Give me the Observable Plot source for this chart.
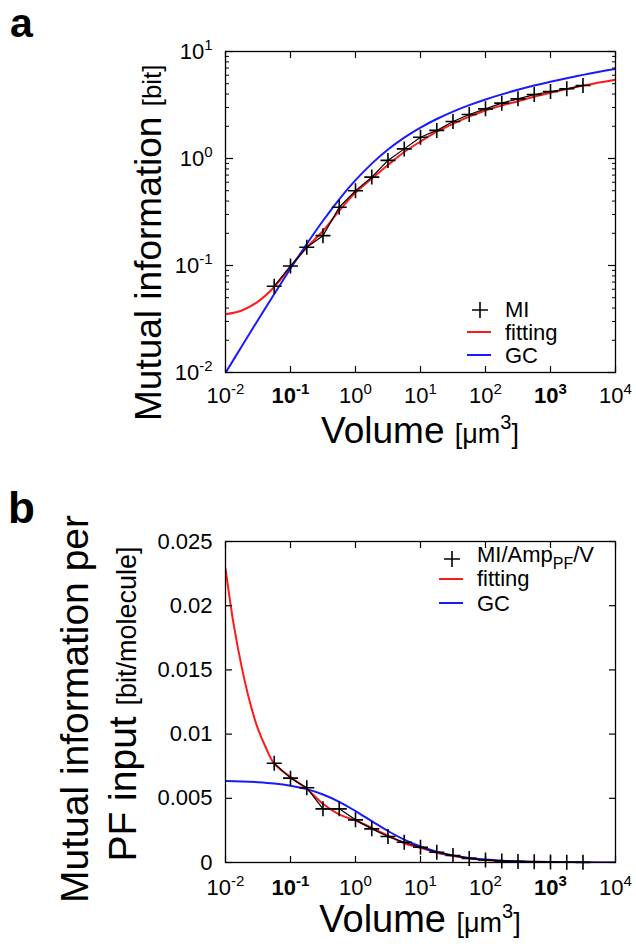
<!DOCTYPE html>
<html>
<head>
<meta charset="utf-8">
<script src="https://cdn.jsdelivr.net/npm/d3@7"></script>
<script src="https://cdn.jsdelivr.net/npm/@observablehq/plot@0.6"></script>
<style>
  html, body { margin: 0; padding: 0; background: #fff; }
  #chart { width: 636px; height: 944px; position: relative; }
  #chart svg { display: block; }
</style>
</head>
<body>
<div id="chart"></div>
<script>
// ---------- data ----------
const volume = [0.0562, 0.1, 0.178, 0.316, 0.562, 1, 1.78, 3.16, 5.62, 10, 17.8, 31.6, 56.2, 100, 178, 316, 562, 1000, 1780, 3160];
const mi = [0.064, 0.099, 0.148, 0.19, 0.35, 0.50, 0.67, 0.96, 1.23, 1.58, 1.83, 2.22, 2.58, 2.91, 3.29, 3.61, 3.96, 4.23, 4.48, 4.81];
const miPerInput = [0.00773, 0.00657, 0.00582, 0.00418, 0.00418, 0.00332, 0.00262, 0.00202, 0.00158, 0.00119, 0.0008, 0.00055, 0.00032, 0.00019, 0.00012, 0.00008, 0.00005, 0.00003, 0.00002, 0.00001];

const curveV = [0.01, 0.0178, 0.0316, 0.0562, 0.1, 0.178, 0.316, 0.562, 1, 1.78, 3.16, 5.62, 10, 17.8, 31.6, 56.2, 100, 178, 316, 562, 1000, 1780, 3160, 5620, 10000];
const fitA = [0.035, 0.038, 0.046, 0.063, 0.097, 0.148, 0.21, 0.325, 0.48, 0.65, 0.87, 1.15, 1.44, 1.78, 2.11, 2.46, 2.81, 3.13, 3.43, 3.78, 4.11, 4.45, 4.81, 5.12, 5.44];
const gcA = [0.00993, 0.01757, 0.03095, 0.05414, 0.0936, 0.159, 0.262, 0.416, 0.627, 0.896, 1.214, 1.568, 1.947, 2.34, 2.743, 3.151, 3.563, 3.976, 4.39, 4.804, 5.219, 5.634, 6.049, 6.464, 6.88];

const fitBV = [0.01, 0.0133, 0.0178, 0.0237, 0.0316, 0.0422, 0.0562, 0.1, 0.178, 0.316, 0.562, 1, 1.78, 3.16, 5.62, 10, 17.8, 31.6, 56.2, 100, 178, 316, 562, 1000, 1780, 3160, 5620, 10000];
const fitB = [0.0229, 0.0186, 0.0152, 0.0125, 0.0104, 0.0089, 0.0077, 0.00665, 0.00574, 0.00457, 0.00374, 0.00327, 0.0027, 0.0021, 0.0015, 0.00114, 0.00075, 0.0005, 0.00032, 0.0002, 0.00013, 0.00008, 0.00005, 0.00003, 0.00002, 0.000012, 0.000008, 0.000005];
const gcB = [0.006345, 0.006314, 0.006254, 0.006152, 0.005981, 0.005714, 0.005295, 0.004727, 0.004006, 0.00322, 0.002453, 0.001782, 0.001244, 0.000841, 0.000554, 0.000358, 0.000228, 0.000143, 0.000089, 0.000055, 0.000033, 0.00002, 0.000012, 0.000007, 0.0000044];

// ticks
const xDecades = [1e-2, 1e-1, 1e0, 1e1, 1e2, 1e3, 1e4];
const xExponents = [-2, -1, 0, 1, 2, 3, 4];
const boldXExponents = [-1, 3];
const yDecadesA = [1e-2, 1e-1, 1e0, 1e1];
const yExponentsA = [-2, -1, 0, 1];
const minorMult = [2, 3, 4, 5, 6, 7, 8, 9];
const yTicksB = [0, 0.005, 0.01, 0.015, 0.02, 0.025];
const yTickLabelsB = ["0", "0.005", "0.01", "0.015", "0.02", "0.025"];

const FONT = "'Liberation Sans', Arial, Helvetica, sans-serif";
const RED = "#ff1a1a", BLUE = "#1a1aff";

const yMinorA = yDecadesA.slice(0, -1).flatMap(d => minorMult.map(m => d * m));

const plusSymbol = {
  draw(ctx, size) {
    const r = Math.sqrt(size / Math.PI);
    ctx.moveTo(-r, 0); ctx.lineTo(r, 0);
    ctx.moveTo(0, -r); ctx.lineTo(0, r);
  }
};

const xLabel = d => "10^" + xExponents[xDecades.indexOf(d)];
const blank = () => "";

function frameTicks(yDecades, yMinor, yMajorSize) {
  const m = [
    Plot.axisX(xDecades, {anchor: "bottom", tickSize: -6, tickFormat: blank, label: null, strokeWidth: 1.2}),
    Plot.axisX(xDecades, {anchor: "top", tickSize: -6, tickFormat: blank, label: null, strokeWidth: 1.2}),
    Plot.axisY(yDecades, {anchor: "left", tickSize: -yMajorSize, tickFormat: blank, label: null, strokeWidth: 1.2}),
    Plot.axisY(yDecades, {anchor: "right", tickSize: -yMajorSize, tickFormat: blank, label: null, strokeWidth: 1.2})
  ];
  if (yMinor) {
    m.push(Plot.axisY(yMinor, {anchor: "left", tickSize: -4, tickFormat: blank, label: null, strokeWidth: 1}));
    m.push(Plot.axisY(yMinor, {anchor: "right", tickSize: -4, tickFormat: blank, label: null, strokeWidth: 1}));
  }
  return m;
}

function superscriptTicks(svg, axis, boldList) {
  d3.select(svg).selectAll(`g[aria-label="${axis}-axis tick label"] text`).each(function() {
    const t = d3.select(this);
    const s = t.text();
    if (!s.includes("^")) return;
    const [base, exp] = s.split("^");
    t.text(null);
    if (boldList.includes(+exp)) t.attr("font-weight", "bold");
    t.append("tspan").text(base);
    t.append("tspan").attr("dy", -9).attr("font-size", 15).text(exp);
  });
}

// ---------- panel a ----------
const plotA = Plot.plot({
  width: 636, height: 470,
  marginLeft: 225, marginRight: 21, marginTop: 51, marginBottom: 98,
  style: {fontFamily: FONT, fontSize: "22px", color: "black", background: "white"},
  x: {type: "log", domain: [1e-2, 1e4]},
  y: {type: "log", domain: [1e-2, 1e1]},
  marks: [
    Plot.line(curveV, {x: curveV, y: fitA, stroke: RED, strokeWidth: 2, curve: "catmull-rom", clip: true}),
    Plot.line(curveV, {x: curveV, y: gcA, stroke: BLUE, strokeWidth: 2, curve: "catmull-rom", clip: true}),
    Plot.line(volume, {x: volume, y: mi, stroke: "black", strokeWidth: 1.2}),
    Plot.dot(volume, {x: volume, y: mi, symbol: plusSymbol, r: 7.5, stroke: "black", fill: "none", strokeWidth: 1.6}),
    Plot.frame({stroke: "black", strokeWidth: 1.3}),
    ...frameTicks(yDecadesA, yMinorA, 8),
    Plot.axisX(xDecades, {anchor: "bottom", tickSize: 0, tickPadding: 15, tickFormat: xLabel, label: null, fontSize: 22}),
    Plot.axisY(yDecadesA, {anchor: "left", tickSize: 0, tickPadding: 13, tickFormat: d => "10^" + yExponentsA[yDecadesA.indexOf(d)], label: null, fontSize: 22})
  ]
});
superscriptTicks(plotA, "x", boldXExponents);
superscriptTicks(plotA, "y", []);

// ---------- panel b ----------
const plotB = Plot.plot({
  width: 636, height: 474,
  marginLeft: 225, marginRight: 21, marginTop: 71, marginBottom: 82,
  style: {fontFamily: FONT, fontSize: "22px", color: "black", background: "white"},
  x: {type: "log", domain: [1e-2, 1e4]},
  y: {type: "linear", domain: [0, 0.025]},
  marks: [
    Plot.line(fitBV, {x: fitBV, y: fitB, stroke: RED, strokeWidth: 2, curve: "catmull-rom", clip: true}),
    Plot.line(curveV, {x: curveV, y: gcB, stroke: BLUE, strokeWidth: 2, curve: "catmull-rom", clip: true}),
    Plot.line(volume, {x: volume, y: miPerInput, stroke: "black", strokeWidth: 1.2}),
    Plot.dot(volume, {x: volume, y: miPerInput, symbol: plusSymbol, r: 7.5, stroke: "black", fill: "none", strokeWidth: 1.6}),
    Plot.frame({stroke: "black", strokeWidth: 1.3}),
    ...frameTicks(yTicksB, null, 7),
    Plot.axisX(xDecades, {anchor: "bottom", tickSize: 0, tickPadding: 17, tickFormat: xLabel, label: null, fontSize: 22}),
    Plot.axisY(yTicksB, {anchor: "left", tickSize: 0, tickPadding: 13, tickFormat: d => yTickLabelsB[yTicksB.indexOf(d)], label: null, fontSize: 22})
  ]
});
superscriptTicks(plotB, "x", boldXExponents);

// ---------- titles, legends ----------
function addText(svg, opts) {
  const t = d3.select(svg).append("text")
    .attr("font-family", FONT)
    .attr("fill", "black")
    .attr("transform", opts.transform)
    .attr("text-anchor", opts.anchor || "start")
    .attr("font-size", opts.size || 22);
  if (opts.weight) t.attr("font-weight", opts.weight);
  for (const part of opts.parts) {
    const ts = t.append("tspan").text(part.text);
    if (part.size) ts.attr("font-size", part.size);
    if (part.dy) ts.attr("dy", part.dy);
  }
  return t;
}
function legend(svg, entries) {
  const g = d3.select(svg).append("g");
  for (const e of entries) {
    if (e.type === "plus") {
      g.append("path").attr("d", `M${e.cx - 8},${e.y}h16M${e.cx},${e.y - 8}v16`).attr("stroke", "black").attr("stroke-width", 1.6);
    } else {
      g.append("path").attr("d", `M${e.cx - 12},${e.y}h24`).attr("stroke", e.color).attr("stroke-width", 2);
    }
  }
}

// panel a
addText(plotA, {transform: "translate(10,37)", size: 41, weight: "bold", parts: [{text: "a"}]});
addText(plotA, {transform: "translate(420,443)", anchor: "middle", size: 37,
  parts: [{text: "Volume "}, {text: "[μm", size: 27}, {text: "3", size: 20, dy: -14}, {text: "]", size: 27, dy: 14}]});
addText(plotA, {transform: "translate(161,421) rotate(-90)", size: 37,
  parts: [{text: "Mutual information "}, {text: "[bit]", size: 26}]});
legend(plotA, [
  {type: "plus", cx: 480, y: 310},
  {type: "line", cx: 479, y: 332, color: RED},
  {type: "line", cx: 479, y: 355, color: BLUE}
]);
addText(plotA, {transform: "translate(505,317)", size: 22, parts: [{text: "MI"}]});
addText(plotA, {transform: "translate(505,340)", size: 22, parts: [{text: "fitting"}]});
addText(plotA, {transform: "translate(505,363)", size: 22, parts: [{text: "GC"}]});

// panel b (svg top at 470)
addText(plotB, {transform: "translate(8,53)", size: 44, weight: "bold", parts: [{text: "b"}]});
addText(plotB, {transform: "translate(420,462)", anchor: "middle", size: 38,
  parts: [{text: "Volume "}, {text: "[μm", size: 27}, {text: "3", size: 20, dy: -14}, {text: "]", size: 27, dy: 14}]});
addText(plotB, {transform: "translate(88,239) rotate(-90)", anchor: "middle", size: 39,
  parts: [{text: "Mutual information per"}]});
addText(plotB, {transform: "translate(136,234) rotate(-90)", anchor: "middle", size: 39,
  parts: [{text: "PF input "}, {text: "[bit/molecule]", size: 27}]});
legend(plotB, [
  {type: "plus", cx: 452, y: 89},
  {type: "line", cx: 451, y: 109, color: RED},
  {type: "line", cx: 451, y: 133, color: BLUE}
]);
addText(plotB, {transform: "translate(477,92)", size: 22,
  parts: [{text: "MI/Amp"}, {text: "PF", size: 16, dy: 7}, {text: "/V", dy: -7}]});
addText(plotB, {transform: "translate(477,116)", size: 22, parts: [{text: "fitting"}]});
addText(plotB, {transform: "translate(477,141)", size: 22, parts: [{text: "GC"}]});

const chart = document.getElementById("chart");
chart.appendChild(plotA);
chart.appendChild(plotB);
</script>
</body>
</html>
